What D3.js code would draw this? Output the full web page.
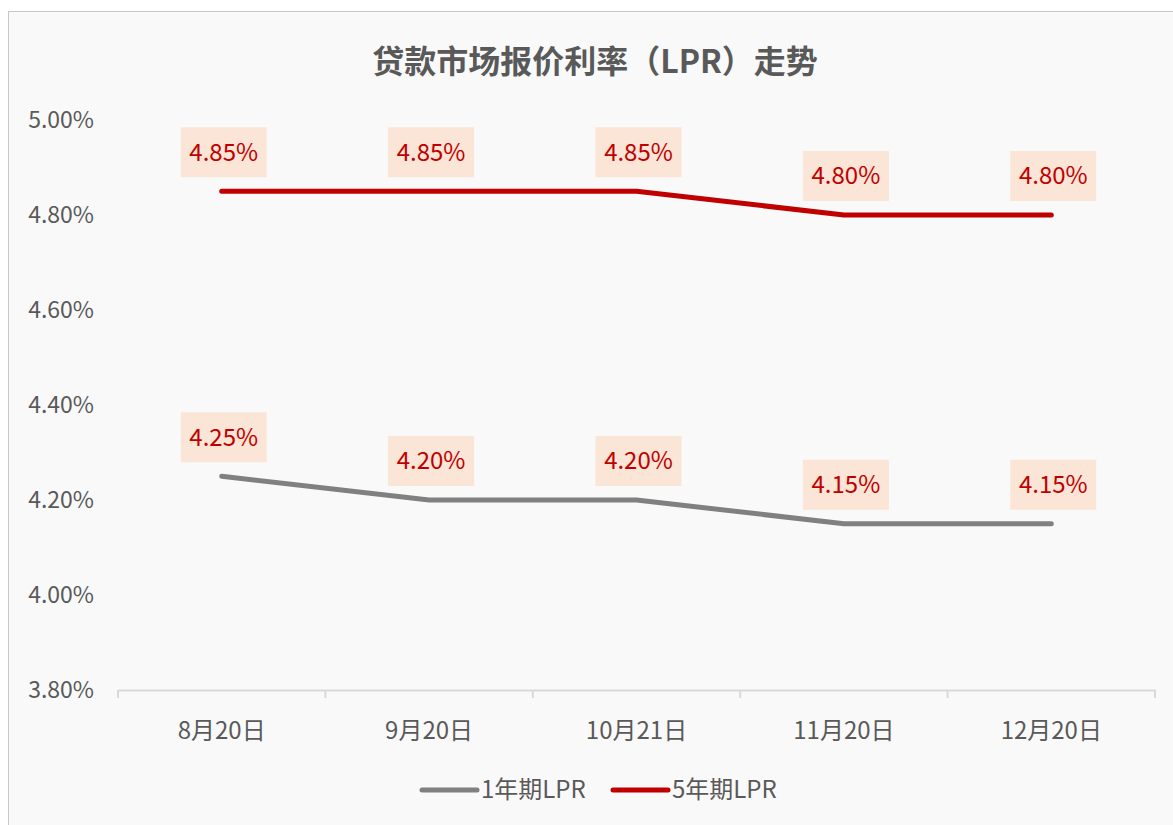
<!DOCTYPE html>
<html>
<head>
<meta charset="utf-8">
<script src="https://cdn.jsdelivr.net/npm/d3@7"></script>
<style>
  body { margin: 0; background: #fff; }
  text { font-family: "Noto Sans CJK SC", "Noto Sans", sans-serif; }
</style>
</head>
<body>
<div id="chart"></div>
<script>
// chart data
const dates = ["8月20日", "9月20日", "10月21日", "11月20日", "12月20日"];
const lpr1y = [4.25, 4.20, 4.20, 4.15, 4.15];
const lpr5y = [4.85, 4.85, 4.85, 4.80, 4.80];
const yTicks = [3.8, 4.0, 4.2, 4.4, 4.6, 4.8, 5.0];
const seriesNames = ["1年期LPR", "5年期LPR"];
const seriesColors = ["#808080", "#c00000"];

const width = 1173, height = 825;
const margin = { top: 120, right: 18, bottom: 135, left: 118 };
const fontFam = '"Noto Sans CJK SC", "Noto Sans", sans-serif';

const svg = d3.select("#chart").append("svg")
  .attr("width", width)
  .attr("height", height);

// background + frame
svg.append("rect")
  .attr("x", 8.5).attr("y", 11.5)
  .attr("width", width).attr("height", height)
  .attr("fill", "#f9f9f9")
  .attr("stroke", "#c8c8c8");

const xScale = d3.scaleBand()
  .domain(dates)
  .range([margin.left, width - margin.right]);

const yScale = d3.scaleLinear()
  .domain([3.8, 5.0])
  .range([height - margin.bottom, margin.top]);

// title
svg.append("text")
  .attr("x", 595).attr("y", 73)
  .attr("text-anchor", "middle")
  .attr("font-family", fontFam)
  .attr("font-size", 32)
  .attr("font-weight", "bold")
  .attr("fill", "#595959")
  .text("贷款市场报价利率（LPR）走势");

// y axis (labels only)
const yAxis = d3.axisLeft(yScale)
  .tickValues(yTicks)
  .tickFormat(d => d.toFixed(2) + "%")
  .tickSize(0)
  .tickPadding(24);

const yAxisGroup = svg.append("g")
  .attr("transform", `translate(${margin.left}, 0)`)
  .call(yAxis);
yAxisGroup.select(".domain").remove();
yAxisGroup.selectAll("text")
  .attr("font-family", fontFam)
  .attr("font-size", 23)
  .attr("fill", "#595959");

// x axis
const xAxis = d3.axisBottom(xScale)
  .tickSize(0)
  .tickPadding(32);

const xAxisGroup = svg.append("g")
  .attr("transform", `translate(0, ${height - margin.bottom})`)
  .call(xAxis);
xAxisGroup.select(".domain").attr("stroke", "#d9d9d9").attr("stroke-width", 2);
xAxisGroup.selectAll("text")
  .attr("font-family", fontFam)
  .attr("font-size", 24)
  .attr("fill", "#595959");

// category boundary ticks
const bounds = dates.map(d => xScale(d)).concat([xScale.range()[1]]);
xAxisGroup.selectAll("line.bound")
  .data(bounds)
  .join("line")
  .attr("class", "bound")
  .attr("x1", d => d).attr("x2", d => d)
  .attr("y1", 0).attr("y2", 8)
  .attr("stroke", "#d9d9d9")
  .attr("stroke-width", 2);

const cx = d => xScale(d) + xScale.bandwidth() / 2;

const line = d3.line()
  .x(d => cx(d.date))
  .y(d => yScale(d.value));

const series = [lpr1y, lpr5y].map((vals, i) => ({
  name: seriesNames[i],
  color: seriesColors[i],
  points: dates.map((d, j) => ({ date: d, value: vals[j] }))
}));

svg.selectAll("path.series")
  .data(series)
  .join("path")
  .attr("class", "series")
  .attr("fill", "none")
  .attr("stroke", d => d.color)
  .attr("stroke-width", 5)
  .attr("stroke-linecap", "round")
  .attr("stroke-linejoin", "round")
  .attr("d", d => line(d.points));

// data labels
const labels = series.flatMap(s => s.points);
const lab = svg.selectAll("g.label")
  .data(labels)
  .join("g")
  .attr("class", "label")
  .attr("transform", d => `translate(${cx(d.date) + 2}, ${yScale(d.value) - 39})`);

lab.append("rect")
  .attr("x", -43).attr("y", -25)
  .attr("width", 86).attr("height", 50)
  .attr("fill", "#fbe5d6");

lab.append("text")
  .attr("text-anchor", "middle")
  .attr("dy", "0.35em")
  .attr("font-family", fontFam)
  .attr("font-size", 24)
  .attr("fill", "#c00000")
  .text(d => d.value.toFixed(2) + "%");

// legend
const legendX = [422, 613];
const legend = svg.selectAll("g.legend")
  .data(series)
  .join("g")
  .attr("class", "legend")
  .attr("transform", (d, i) => `translate(${legendX[i]}, 790)`);

legend.append("line")
  .attr("x1", 0).attr("x2", 55)
  .attr("stroke", d => d.color)
  .attr("stroke-width", 5)
  .attr("stroke-linecap", "round");

legend.append("text")
  .attr("x", 59)
  .attr("dy", "0.35em")
  .attr("font-family", fontFam)
  .attr("font-size", 24)
  .attr("fill", "#595959")
  .text(d => d.name);
</script>
</body>
</html>
